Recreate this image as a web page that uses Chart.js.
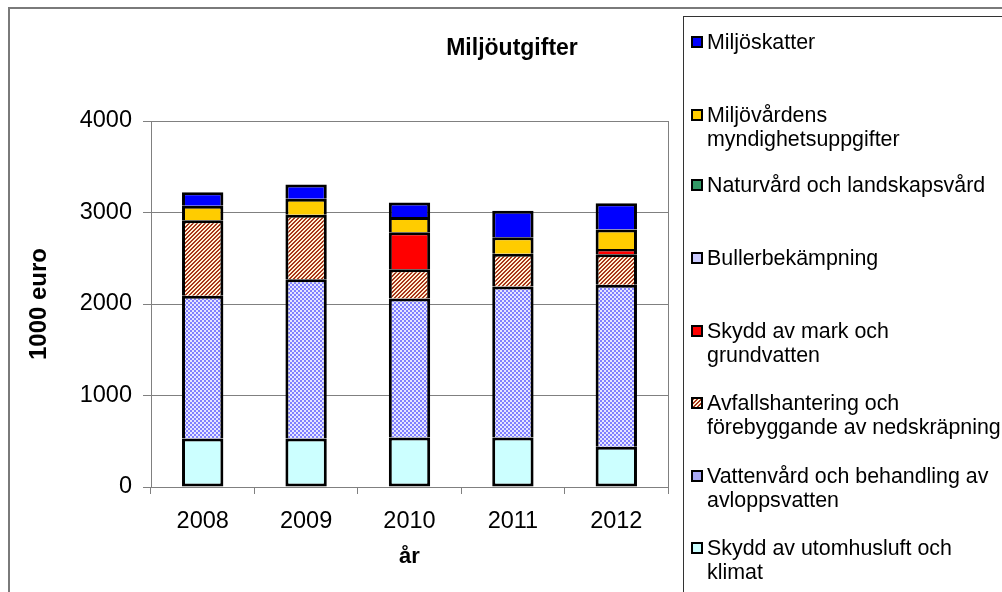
<!DOCTYPE html>
<html>
<head>
<meta charset="utf-8">
<script src="https://cdn.jsdelivr.net/npm/chart.js@4/dist/chart.umd.min.js"></script>
<style>
  html, body { margin: 0; padding: 0; background: #fff; }
  #wrap { position: relative; width: 1002px; height: 592px; overflow: hidden; font-family: "Liberation Sans", Arial, sans-serif; }
  #c { position: absolute; left: 0; top: 0; }
  #outer { position: absolute; left: 8px; top: 7px; width: 1010px; height: 600px; border: 2px solid #7a7a7a; box-sizing: border-box; }
  #legend { position: absolute; left: 683px; top: 16px; width: 330px; height: 600px; border: 1px solid #333; box-sizing: border-box; }
  .item { position: absolute; left: 0; font-size: 21.4px; line-height: 24.5px; color: #000; white-space: nowrap; }
  .item .txt { position: absolute; left: 23px; top: 0; }
  .item .mk { position: absolute; left: 7px; top: 6px; width: 12px; height: 12px; box-sizing: border-box; border: 2px solid #000; }
</style>
</head>
<body>
<div id="wrap">
  <canvas id="c" width="1002" height="592"></canvas>
  <div id="outer"></div>
  <div id="legend"></div>
</div>
<script>
// ---- data ----
const years = ["2008", "2009", "2010", "2011", "2012"];
const skyddUtomhusluft = [530, 530, 540, 540, 440];
const vattenvard = [1560, 1740, 1520, 1650, 1770];
const avfall = [825, 705, 320, 360, 335];
const skyddMark = [0, 0, 405, 0, 55];
const buller = [0, 0, 0, 0, 0];
const naturvard = [0, 0, 0, 0, 0];
const myndighet = [160, 175, 165, 180, 215];
const miljoskatter = [145, 155, 160, 290, 285];
const yTicks = [0, 1000, 2000, 3000, 4000];

const seriesNames = {
  utomhus: ["Skydd av utomhusluft och", "klimat"],
  vatten: ["Vattenvård och behandling av", "avloppsvatten"],
  avfall: ["Avfallshantering och", "förebyggande av nedskräpning"],
  mark: ["Skydd av mark och", "grundvatten"],
  buller: ["Bullerbekämpning"],
  natur: ["Naturvård och landskapsvård"],
  myndighet: ["Miljövårdens", "myndighetsuppgifter"],
  skatter: ["Miljöskatter"]
};

// ---- patterns ----
function stripePattern() {
  const c = document.createElement('canvas');
  c.width = 4; c.height = 4;
  const x = c.getContext('2d');
  x.fillStyle = '#fff2d6'; x.fillRect(0, 0, 4, 4);
  x.fillStyle = '#a8351a';
  for (let i = 0; i < 4; i++) {
    x.fillRect((3 - i + 4) % 4, i, 1, 1);
    x.fillRect((4 - i + 4) % 4, i, 1, 1);
  }
  return document.getElementById('c').getContext('2d').createPattern(c, 'repeat');
}
function checkPattern() {
  const c = document.createElement('canvas');
  c.width = 4; c.height = 4;
  const x = c.getContext('2d');
  x.fillStyle = '#e6e6ff'; x.fillRect(0, 0, 4, 4);
  x.fillStyle = '#8080ff';
  x.fillRect(0, 0, 2, 2); x.fillRect(2, 2, 2, 2);
  return document.getElementById('c').getContext('2d').createPattern(c, 'repeat');
}
const pStripe = stripePattern();
const pCheck = checkPattern();

const dsDefs = [
  { key: 'utomhus', data: skyddUtomhusluft, bg: '#ccffff', mk: '#ccffff' },
  { key: 'vatten', data: vattenvard, bg: pCheck, mk: '#a8a8f4' },
  { key: 'avfall', data: avfall, bg: pStripe, mk: 'stripe' },
  { key: 'mark', data: skyddMark, bg: '#ff0000', mk: '#ff0000' },
  { key: 'buller', data: buller, bg: '#ccccff', mk: '#ccccff' },
  { key: 'natur', data: naturvard, bg: '#339966', mk: '#339966' },
  { key: 'myndighet', data: myndighet, bg: '#ffcc00', mk: '#ffcc00' },
  { key: 'skatter', data: miljoskatter, bg: '#0000ff', mk: '#0000ff' }
];

const datasets = dsDefs.map((d, i) => ({
  label: seriesNames[d.key].join(' '),
  data: d.data,
  backgroundColor: d.bg,
  borderColor: '#000',
  borderWidth: 3,
  borderSkipped: i === 0 ? false : 'start',
  categoryPercentage: 0.5,
  barPercentage: 0.8
}));

const FONT = "'Liberation Sans', Arial, sans-serif";

const framePlugin = {
  id: 'frame',
  afterDraw(chart) {
    const { ctx, chartArea: a } = chart;
    ctx.save();
    ctx.strokeStyle = '#808080';
    ctx.lineWidth = 1;
    ctx.beginPath();
    ctx.moveTo(Math.round(a.right) + 0.5, a.top);
    ctx.lineTo(Math.round(a.right) + 0.5, a.bottom + 7);
    ctx.stroke();
    ctx.fillStyle = '#000';
    ctx.font = "bold 23px " + FONT;
    ctx.textAlign = 'center';
    ctx.textBaseline = 'middle';
    ctx.fillText('Miljöutgifter', 512, 49);
    ctx.restore();
  }
};

new Chart(document.getElementById('c'), {
  type: 'bar',
  data: { labels: years, datasets },
  plugins: [framePlugin],
  options: {
    responsive: false,
    animation: false,
    layout: { padding: { left: 0, top: 121, right: 334, bottom: 0 } },
    plugins: { legend: { display: false }, tooltip: { enabled: false } },
    scales: {
      x: {
        stacked: true,
        afterFit(s) { s.height = 105; },
        grid: { drawOnChartArea: false, color: '#808080', tickLength: 7, offset: true },
        border: { color: '#808080', width: 1 },
        ticks: { color: '#000', font: { family: FONT, size: 23.5 }, padding: 13 },
        title: { display: true, text: 'år', color: '#000', font: { family: FONT, size: 22, weight: 'bold' }, padding: { bottom: 22 } }
      },
      y: {
        stacked: true,
        min: 0, max: 4000,
        afterFit(s) { s.width = 151; },
        afterBuildTicks(s) { s.ticks = yTicks.map(v => ({ value: v })); },
        grid: { color: '#808080', tickLength: 8, lineWidth: 1 },
        border: { color: '#808080', width: 1 },
        ticks: { color: '#000', font: { family: FONT, size: 23.5 }, padding: 11, callback: v => String(v) },
        title: { display: true, text: '1000 euro', color: '#000', font: { family: FONT, size: 24, weight: 'bold' }, padding: { top: 25 } }
      }
    }
  }
});

// ---- legend (HTML text) ----
const legendOrder = ['skatter', 'myndighet', 'natur', 'buller', 'mark', 'avfall', 'vatten', 'utomhus'];
const legendCenters = [41, 114, 184, 257, 330, 402, 475, 547];
const lg = document.getElementById('legend');
legendOrder.forEach((k, i) => {
  const d = dsDefs.find(x => x.key === k);
  const it = document.createElement('div');
  it.className = 'item';
  it.style.top = (legendCenters[i] - 16 - 12.25) + 'px';
  const mk = document.createElement('div');
  mk.className = 'mk';
  if (d.mk === 'stripe') {
    mk.style.background = 'repeating-linear-gradient(135deg, #a8351a 0 1.4px, #fff2d6 1.4px 2.8px)';
  } else {
    mk.style.background = d.mk;
  }
  const tx = document.createElement('div');
  tx.className = 'txt';
  tx.innerHTML = seriesNames[k].join('<br>');
  it.appendChild(mk); it.appendChild(tx);
  lg.appendChild(it);
});
</script>
</body>
</html>
